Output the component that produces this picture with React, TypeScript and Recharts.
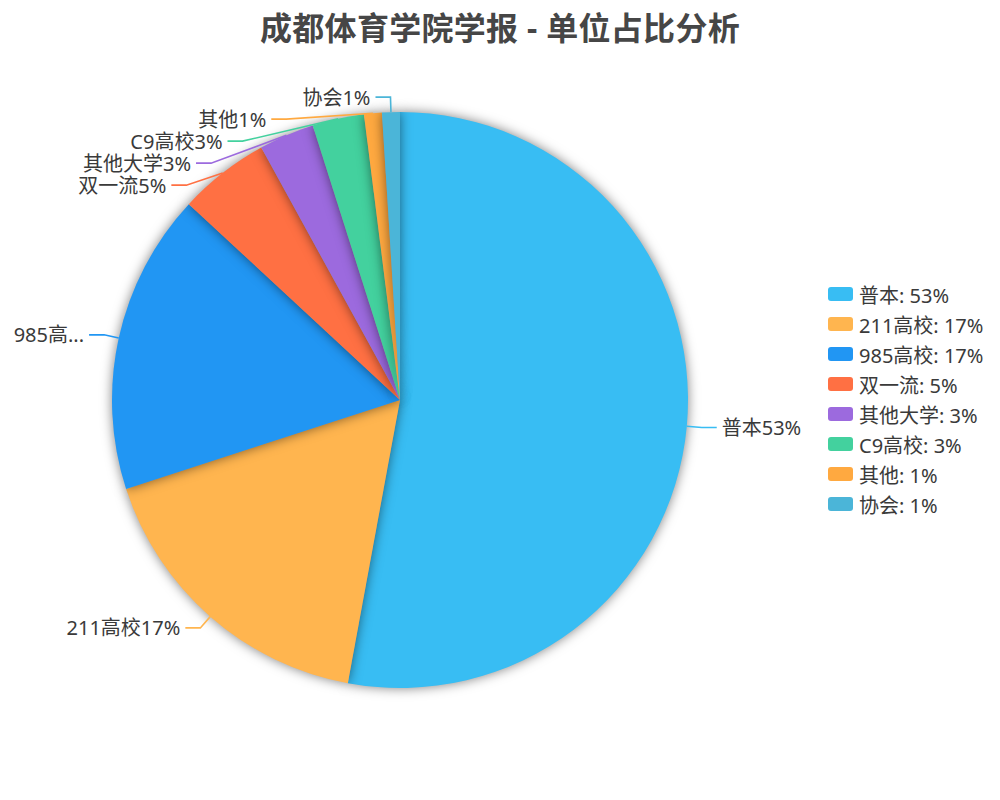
import React from 'react';
import { PieChart, Pie, Cell, Legend } from 'recharts';

const categories = ['普本', '211高校', '985高校', '双一流', '其他大学', 'C9高校', '其他', '协会'];
const values = [52.9, 17.1, 16.9, 5.1, 3.1, 2.9, 1.0, 1.0];
const colors = ['#38BDF3', '#FFB54F', '#2196F3', '#FF7043', '#9C6ADE', '#43D19E', '#FFA940', '#4BB5D8'];
const title = '成都体育学院学报 - 单位占比分析';

const total = values.reduce((a, b) => a + b, 0);
const percents = values.map((v) => Math.round((v / total) * 100));
const data = categories.map((name, i) => ({ name, value: values[i] }));

const FONT = '"Noto Sans", "Noto Sans CJK SC", sans-serif';
const FS = 20;
const LEN1 = 15;
const LEN2 = 15;
const GAP = 5;
const LINE_H = 22;
const EDGE = 8;
const CHART_W = 1000;

let ctx: CanvasRenderingContext2D | null = null;
function measure(text: string): number {
  if (!ctx) {
    const c = document.createElement('canvas');
    ctx = c.getContext('2d');
  }
  if (!ctx) return text.length * 15;
  ctx.font = `${FS}px ${FONT}`;
  return ctx.measureText(text).width;
}

function truncate(text: string, avail: number): string {
  if (measure(text) <= avail) return text;
  for (let n = text.length - 1; n > 0; n--) {
    const t = text.slice(0, n) + '...';
    if (measure(t) <= avail) return t;
  }
  return '...';
}

type LabelPos = { sx: number; sy: number; x: number; y: number; right: boolean };

function layoutLabels(cx: number, cy: number, r: number): LabelPos[] {
  let acc = 0;
  const items = values.map((v) => {
    const s = acc / total;
    acc += v;
    const e = acc / total;
    const a = ((s + e) / 2) * 2 * Math.PI;
    const sx = cx + r * Math.sin(a);
    const sy = cy - r * Math.cos(a);
    const x = cx + (r + LEN1) * Math.sin(a);
    const y = cy - (r + LEN1) * Math.cos(a);
    return { sx, sy, x, y, right: Math.sin(a) >= 0 };
  });
  [true, false].forEach((side) => {
    const list = items.filter((it) => it.right === side).sort((p, q) => p.y - q.y);
    for (let k = 1; k < list.length; k++) {
      if (list[k].y < list[k - 1].y + LINE_H) {
        list[k].y = list[k - 1].y + LINE_H;
        const R = r + LEN1;
        const dy = Math.abs(list[k].y - cy);
        list[k].x = cx + (side ? 1 : -1) * Math.sqrt(Math.max(0, R * R - dy * dy));
      }
    }
  });
  return items;
}

const renderLabel = (props: any) => {
  const { cx, cy, outerRadius, index } = props;
  const pos = layoutLabels(Number(cx), Number(cy), Number(outerRadius))[index];
  const dir = pos.right ? 1 : -1;
  const x2 = pos.x + dir * LEN2;
  const tx = x2 + dir * GAP;
  const full = `${categories[index]}${percents[index]}%`;
  const avail = pos.right ? CHART_W - EDGE - tx : tx - EDGE;
  const text = truncate(full, avail);
  return (
    <g key={`lbl-${index}`}>
      <polyline
        points={`${pos.sx},${pos.sy} ${pos.x},${pos.y} ${x2},${pos.y}`}
        fill="none"
        stroke={colors[index]}
        strokeWidth={1.6}
      />
      <text
        x={tx}
        y={pos.y}
        textAnchor={pos.right ? 'start' : 'end'}
        dominantBaseline="central"
        fontSize={FS}
        fontFamily={FONT}
        fill="#3a3a3a"
      >
        {text}
      </text>
    </g>
  );
};

const LegendContent = () => (
  <div style={{ fontFamily: FONT, fontSize: FS, color: '#3a3a3a' }}>
    {categories.map((c, i) => (
      <div key={c} style={{ display: 'flex', alignItems: 'center', height: 30 }}>
        <span
          style={{
            display: 'inline-block',
            width: 25,
            height: 14,
            borderRadius: 3,
            background: colors[i],
            marginRight: 6,
          }}
        />
        <span>{`${c}: ${percents[i]}%`}</span>
      </div>
    ))}
  </div>
);

export default function App() {
  return (
    <div style={{ position: 'absolute', left: 0, top: 0, width: 1000, height: 800, background: '#fff' }}>
      <style>{`.recharts-pie-sector path { filter: drop-shadow(0px 0px 6px rgba(0,0,0,0.5)); }`}</style>
      <div
        style={{
          position: 'absolute',
          left: 0,
          top: 8,
          width: 1000,
          height: 40,
          lineHeight: '40px',
          textAlign: 'center',
          fontFamily: FONT,
          fontWeight: 'bold',
          fontSize: 32,
          letterSpacing: 0.3,
          color: '#464646',
          zIndex: 2,
        }}
      >
        {title}
      </div>
      <PieChart width={1000} height={800} margin={{ top: 0, right: 0, bottom: 0, left: 0 }}>
        <Pie
          data={data}
          dataKey="value"
          nameKey="name"
          cx={400}
          cy={400}
          outerRadius={288}
          startAngle={90}
          endAngle={-270}
          stroke="none"
          label={renderLabel}
          labelLine={false}
          isAnimationActive={false}
        >
          {data.map((d, i) => (
            <Cell key={d.name} fill={colors[i]} />
          ))}
        </Pie>
        <Legend
          layout="vertical"
          align="right"
          verticalAlign="middle"
          content={<LegendContent />}
          wrapperStyle={{ left: 828, top: 279, width: 170 }}
        />
      </PieChart>
    </div>
  );
}
